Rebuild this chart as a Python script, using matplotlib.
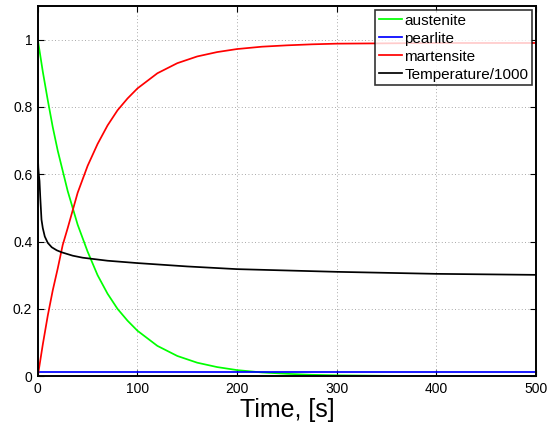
import matplotlib
matplotlib.use("Agg")
import matplotlib.pyplot as plt

plt.rcParams['font.family'] = ['Liberation Sans', 'DejaVu Sans']

# Phase fractions
t_phase = [0, 5, 10, 15, 20, 25, 30, 40, 50, 60, 70, 80, 90, 100, 120, 140,
           160, 180, 200, 225, 250, 275, 300, 350, 400, 450, 500]
austenite = [1.00, 0.905, 0.82, 0.74, 0.67, 0.61, 0.55, 0.45, 0.37, 0.30,
             0.245, 0.20, 0.165, 0.135, 0.09, 0.06, 0.04, 0.027, 0.018,
             0.011, 0.007, 0.004, 0.0025, 0.001, 0.0003, 0.0001, 0.0]
pearlite = [0.012] * len(t_phase)
martensite = [0.0, 0.094, 0.18, 0.255, 0.32, 0.39, 0.44, 0.545, 0.625, 0.69,
              0.745, 0.79, 0.825, 0.855, 0.90, 0.93, 0.95, 0.963, 0.972,
              0.979, 0.983, 0.986, 0.988, 0.989, 0.99, 0.99, 0.99]

# Temperature / 1000
t_temp = [0, 0.5, 1, 1.7, 2.5, 3.7, 5, 7, 10, 14, 19, 24, 35, 45, 70, 100,
          150, 200, 250, 300, 400, 500]
temperature = [0.66, 0.62, 0.60, 0.58, 0.53, 0.465, 0.44, 0.415, 0.396,
               0.383, 0.374, 0.368, 0.358, 0.352, 0.343, 0.336, 0.326, 0.318,
               0.314, 0.310, 0.304, 0.301]

labels = ['austenite', 'pearlite', 'martensite', 'Temperature/1000']

fig = plt.figure(figsize=(5.56, 4.26), dpi=100)
ax = fig.add_axes([0.068, 0.117, 0.896, 0.869])

lw = 1.25
ax.plot(t_phase, austenite, color=(0, 1, 0), lw=lw, label=labels[0])
ax.plot(t_phase, pearlite, color=(0, 0, 1), lw=lw, label=labels[1])
ax.plot(t_phase, martensite, color=(1, 0, 0), lw=lw, label=labels[2])
ax.plot(t_temp, temperature, color='black', lw=lw, label=labels[3])

ax.set_xlim(0, 500)
ax.set_ylim(0, 1.1)
ax.set_xticks([0, 100, 200, 300, 400, 500])
ax.set_yticks([0, 0.2, 0.4, 0.6, 0.8, 1.0])
ax.set_yticklabels(['0', '0.2', '0.4', '0.6', '0.8', '1'])
ax.grid(True, linestyle=(0, (1, 3)), color='#8c8c8c', linewidth=0.6)
ax.tick_params(direction='in', top=True, right=True, labelsize=10,
               length=4, width=0.8, pad=4)
for s in ax.spines.values():
    s.set_linewidth(1.4)

ax.set_xlabel('Time, [s]', fontsize=18, labelpad=2)

leg = ax.legend(loc='upper right', fontsize=11, frameon=True, fancybox=False,
                edgecolor='black', handlelength=1.5, handletextpad=0.15,
                labelspacing=0.26, borderpad=0.25, borderaxespad=0.25)
leg.get_frame().set_linewidth(1.2)

fig.savefig('out.png', dpi=100)
